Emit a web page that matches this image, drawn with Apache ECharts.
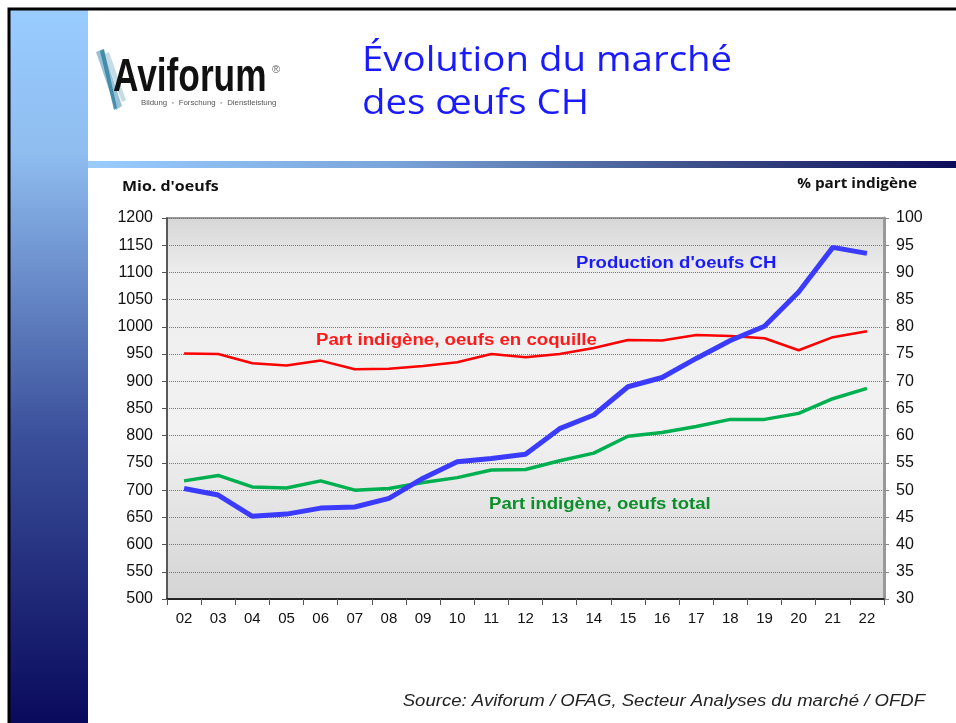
<!DOCTYPE html>
<html>
<head>
<meta charset="utf-8">
<script src="https://cdn.jsdelivr.net/npm/echarts@6/dist/echarts.min.js"></script>
<style>
  html, body { margin: 0; padding: 0; background: #fff; }
  #chart { width: 956px; height: 723px; }
</style>
</head>
<body>
<div id="chart"></div>
<script>
// années 2002-2022
const years = ['02','03','04','05','06','07','08','09','10','11','12','13','14','15','16','17','18','19','20','21','22'];
// Mio. d'oeufs (axe gauche)
const production = [703, 691, 652, 656, 667, 669, 685, 722, 752, 758, 766, 813, 838, 890, 907, 942, 975, 1001, 1064, 1146, 1135];
// % part indigène (axe droit)
const partCoquille = [75.1, 75.0, 73.3, 72.9, 73.8, 72.2, 72.3, 72.8, 73.5, 75.0, 74.4, 75.0, 76.1, 77.6, 77.5, 78.5, 78.3, 77.9, 75.7, 78.1, 79.2];
const partTotal = [51.7, 52.7, 50.6, 50.4, 51.7, 50.0, 50.3, 51.4, 52.3, 53.7, 53.8, 55.4, 56.8, 59.9, 60.6, 61.7, 63.0, 63.0, 64.1, 66.8, 68.7];

const chart = echarts.init(document.getElementById('chart'));
const axisFont = { fontFamily: 'Liberation Sans, Arial', fontSize: 16, color: '#111' };

// texte étiré horizontalement comme dans la diapo
function label(x, y, text, font, fill, align, sx, sy) {
  return {
    type: 'text', x: x, y: y, scaleX: sx || 1, scaleY: sy || 1, z: 93,
    style: { x: 0, y: 0, text: text, font: font, fill: fill, textAlign: align || 'left', textVerticalAlign: 'middle' }
  };
}

chart.setOption({
  animation: false,
  backgroundColor: '#fff',
  grid: {
    left: 167, right: 72, top: 218, bottom: 124,
    show: true,
    borderColor: '#999', borderWidth: 2,
    backgroundColor: {
      type: 'linear', x: 0, y: 0, x2: 0, y2: 1,
      colorStops: [
        { offset: 0, color: '#d6d6d6' },
        { offset: 0.15, color: '#eeeeee' },
        { offset: 0.55, color: '#f2f2f2' },
        { offset: 1, color: '#d4d4d4' }
      ]
    }
  },
  xAxis: {
    type: 'category', data: years, boundaryGap: true,
    axisLine: { lineStyle: { color: '#000', width: 1.5 } },
    axisTick: { show: true, length: 6, lineStyle: { color: '#555' } },
    axisLabel: Object.assign({ margin: 12, fontSize: 15 }, axisFont, { fontSize: 15 })
  },
  yAxis: [
    {
      type: 'value', min: 500, max: 1200, interval: 50, position: 'left',
      axisLine: { show: true, lineStyle: { color: '#444', width: 1.5 } },
      axisTick: { show: true, length: 5, lineStyle: { color: '#555' } },
      axisLabel: Object.assign({ margin: 14, formatter: v => String(v) }, axisFont),
      splitLine: { show: true, lineStyle: { color: '#777', type: [1, 1], width: 1 } }
    },
    {
      type: 'value', min: 30, max: 100, interval: 5, position: 'right',
      axisLine: { show: true, lineStyle: { color: '#999', width: 3 } },
      axisTick: { show: true, length: 5, lineStyle: { color: '#888' } },
      axisLabel: Object.assign({ margin: 12, formatter: v => String(v) }, axisFont),
      splitLine: { show: false }
    }
  ],
  series: [
    {
      name: "Part indigène, oeufs en coquille", type: 'line', yAxisIndex: 1,
      data: partCoquille, symbol: 'none',
      lineStyle: { color: '#ff0000', width: 2.5 }
    },
    {
      name: 'Part indigène, oeufs total', type: 'line', yAxisIndex: 1,
      data: partTotal, symbol: 'none',
      lineStyle: { color: '#00b050', width: 3.5 }
    },
    {
      name: "Production d'oeufs CH", type: 'line', yAxisIndex: 0,
      data: production, symbol: 'none',
      lineStyle: { color: '#3b3bff', width: 5 }
    }
  ],
  graphic: [
    // cadre et bandeau bleu à gauche
    { type: 'rect', shape: { x: 9, y: 9, width: 950, height: 720 }, style: { fill: 'none', stroke: '#000', lineWidth: 3 }, z: 100 },
    {
      type: 'rect', shape: { x: 10, y: 10, width: 78, height: 713 }, z: 90,
      style: { fill: { type: 'linear', x: 0, y: 0, x2: 0, y2: 1, colorStops: [
        { offset: 0, color: '#99ccff' }, { offset: 0.2, color: '#8fbdf0' },
        { offset: 0.6, color: '#3a4f9a' }, { offset: 1, color: '#0a0a5c' } ] } }
    },
    {
      type: 'rect', shape: { x: 88, y: 161, width: 868, height: 7 }, z: 90,
      style: { fill: { type: 'linear', x: 0, y: 0, x2: 1, y2: 0, colorStops: [
        { offset: 0, color: '#99ccff' }, { offset: 0.35, color: '#7aa5d8' },
        { offset: 0.7, color: '#3e5089' }, { offset: 1, color: '#0c0c5a' } ] } }
    },
    // logo
    { type: 'polygon', shape: { points: [[96, 52], [103, 49], [122, 106], [116, 110]] }, style: { fill: '#7fb3cc', opacity: 0.8 }, z: 91 },
    { type: 'polygon', shape: { points: [[100, 51], [104, 49], [117, 108], [114, 110]] }, style: { fill: '#2d7fa0', opacity: 0.8 }, z: 92 },
    { type: 'polygon', shape: { points: [[104, 54], [109, 52], [126, 100], [122, 102]] }, style: { fill: '#b8d2e0', opacity: 0.8 }, z: 91 },
    label(113, 78, 'Aviforum', 'bold 36px "Liberation Sans", Arial', '#111', 'left', 0.98, 1.3),
    label(272, 70, '®', '11px "Liberation Sans", Arial', '#666'),
    label(141, 103, 'Bildung  ◦  Forschung  ◦  Dienstleistung', '7px "Liberation Sans", Arial', '#555', 'left', 1.12, 1),
    // titre
    label(362, 61, 'Évolution du marché', '34px "Open Sans", "Noto Sans"', '#1a1aff', 'left', 1.13, 1),
    label(362, 104, 'des œufs CH', '34px "Open Sans", "Noto Sans"', '#1a1aff', 'left', 1.13, 1),
    // titres d'axes
    label(122, 187, "Mio. d'oeufs", 'bold 14px "Open Sans", "Liberation Sans"', '#111', 'left', 1.14, 1),
    label(917, 184, '% part indigène', 'bold 14px "Open Sans", "Liberation Sans"', '#111', 'right', 1.09, 1),
    // étiquettes des séries
    label(576, 264, "Production d'oeufs CH", 'bold 16px "Liberation Sans", Arial', '#1a1aff', 'left', 1.16, 1),
    label(316, 341, 'Part indigène, oeufs en coquille', 'bold 16px "Liberation Sans", Arial', '#ff1a1a', 'left', 1.166, 1),
    label(489, 505, 'Part indigène, oeufs total', 'bold 16px "Liberation Sans", Arial', '#0a8f2a', 'left', 1.16, 1),
    // source
    label(925, 702, 'Source: Aviforum / OFAG, Secteur Analyses du marché / OFDF', 'italic 16px "Liberation Sans", Arial', '#222', 'right', 1.16, 1)
  ]
});
</script>
</body>
</html>
